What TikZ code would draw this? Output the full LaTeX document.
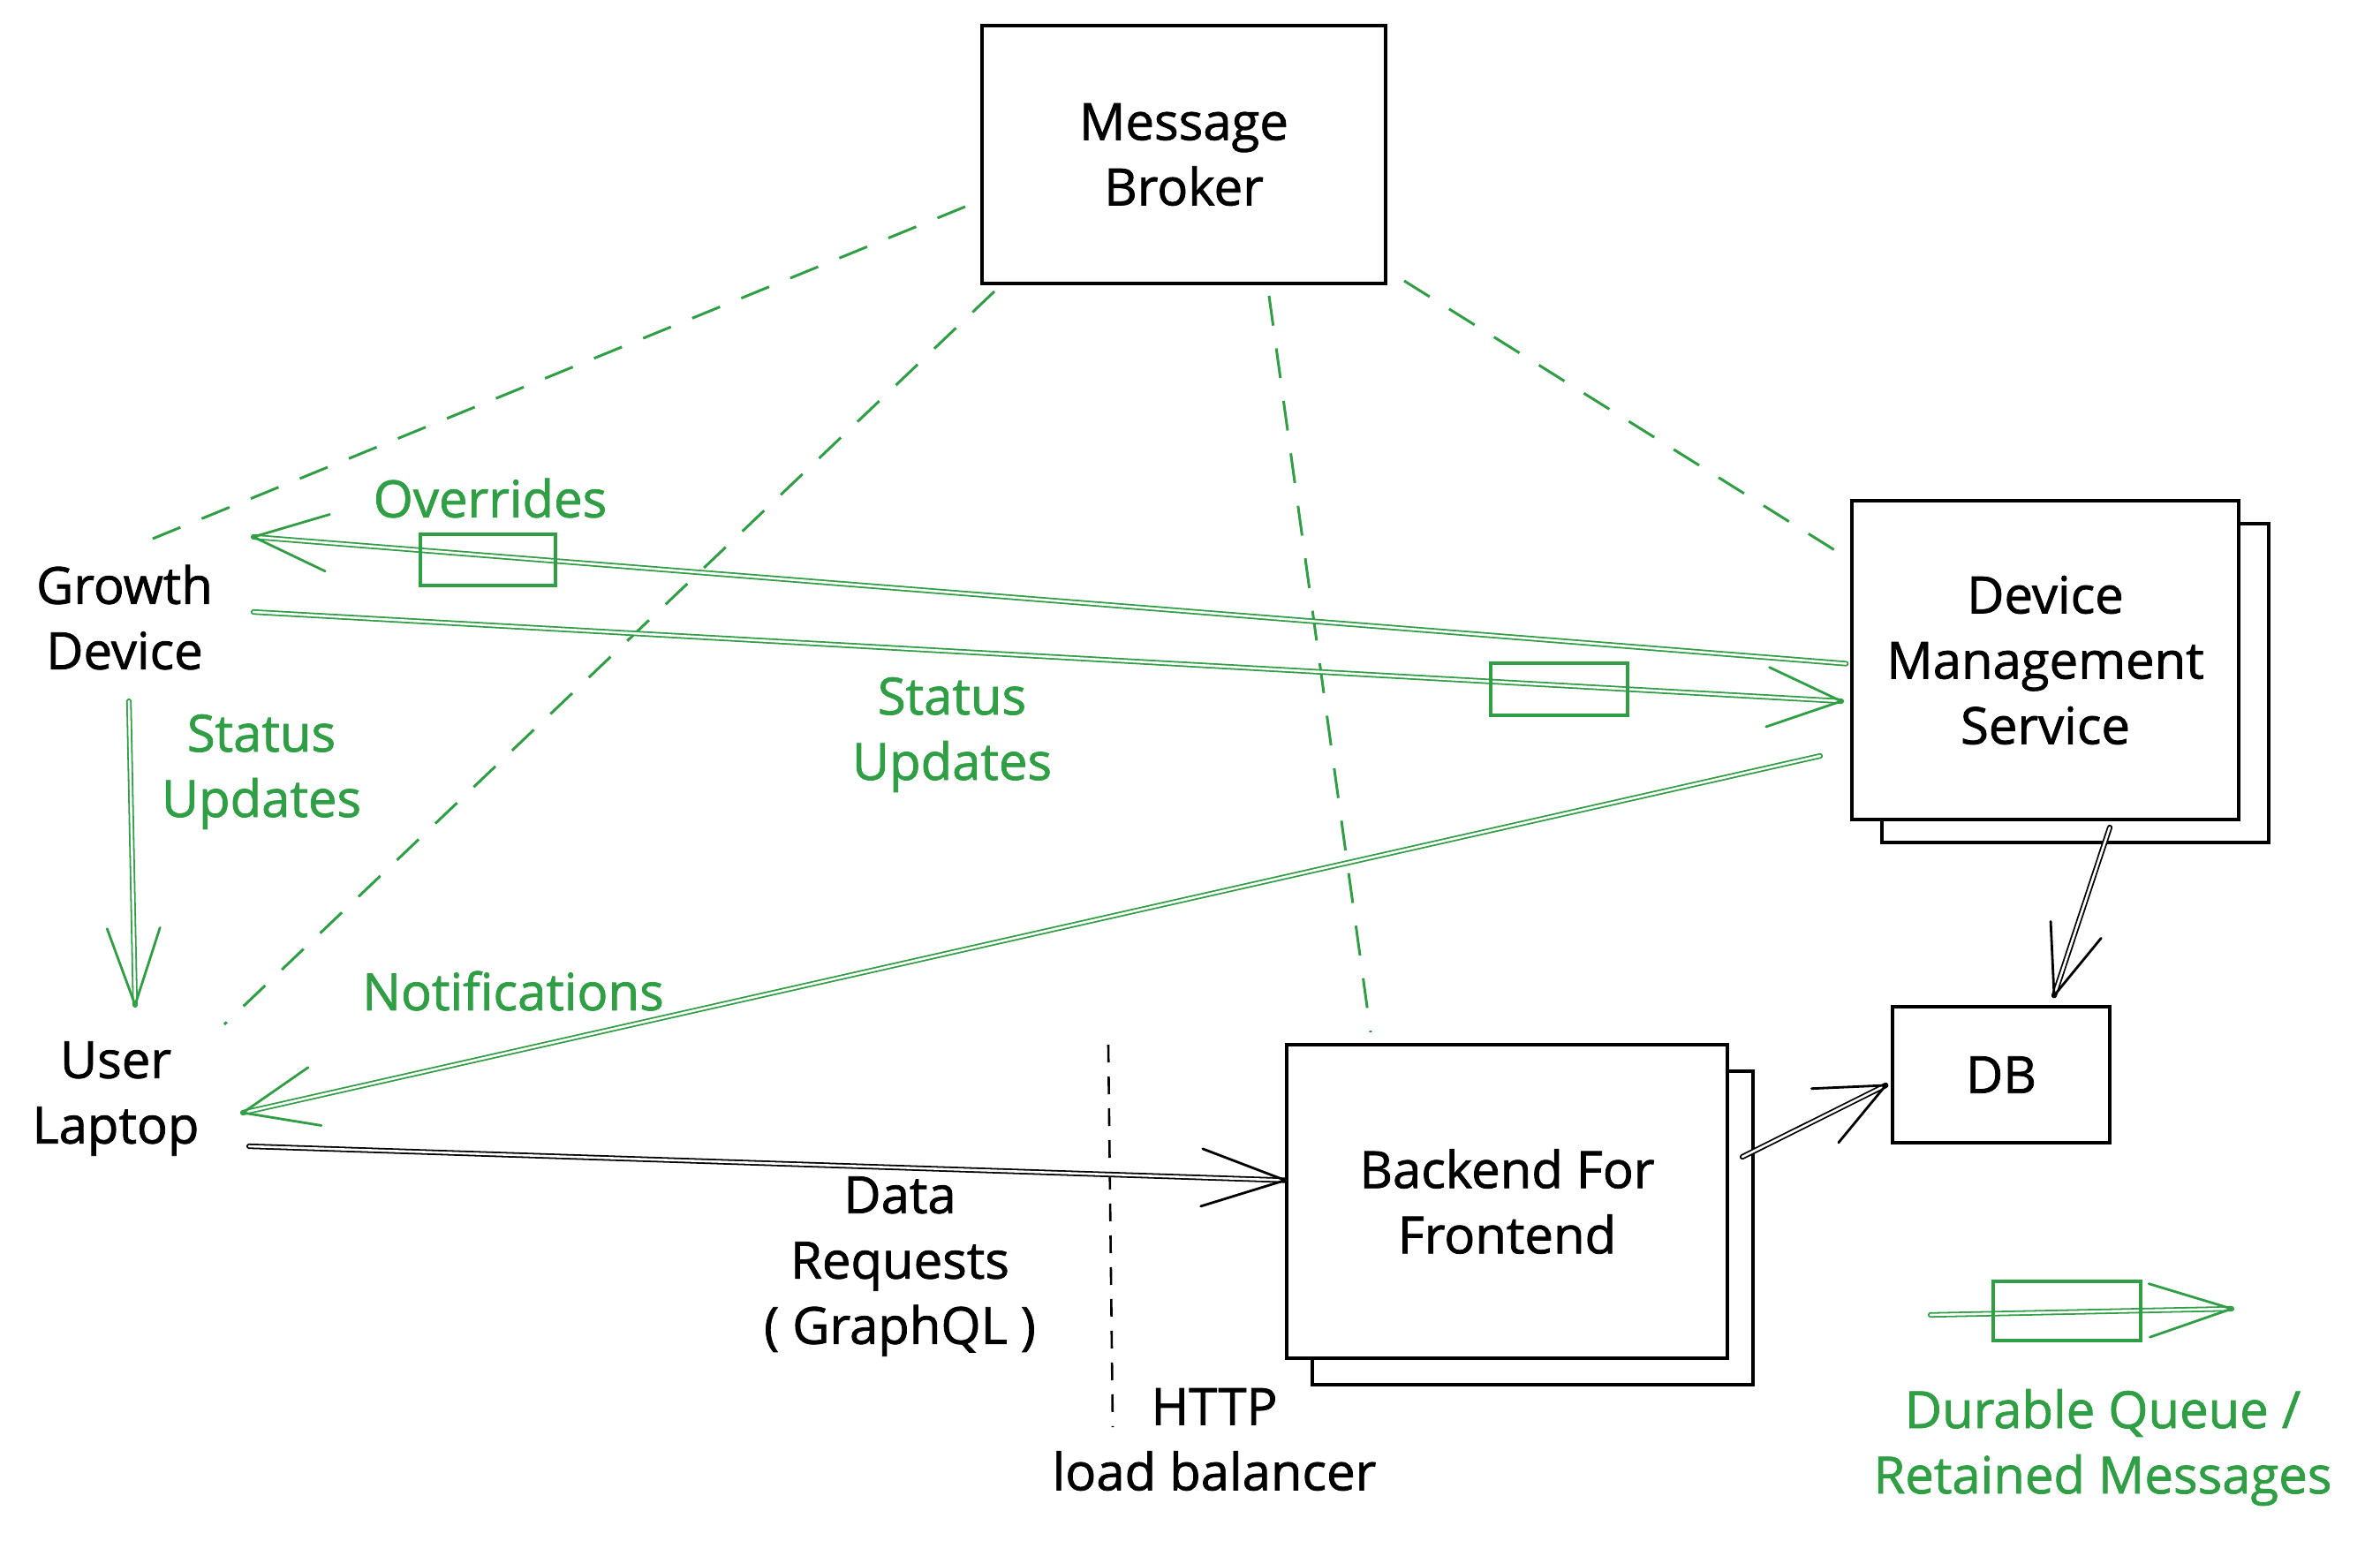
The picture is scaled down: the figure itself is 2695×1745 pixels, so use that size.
\documentclass[tikz,border=0pt]{standalone}
\usepackage{fontspec}
\setmainfont{Open Sans}[UprightFeatures={FakeBold=1.3}]
\usetikzlibrary{calc}
\definecolor{sketchgreen}{HTML}{2F9E44}
\tikzset{
  box/.style={draw=black, line width=1.7pt, fill=white, inner sep=0pt},
  lbl/.style={font=\fontsize{29}{37}\selectfont, align=center, inner sep=0pt},
  glbl/.style={lbl, text=sketchgreen},
  shaft/.style={line width=0.9pt, double=white, double distance=1.3pt, line cap=round},
  gshaft/.style={shaft, draw=sketchgreen},
  kshaft/.style={shaft, draw=black},
  headline/.style={line width=1.4pt, line cap=round, line join=round},
  gdash/.style={draw=sketchgreen, line width=1.5pt, dash pattern=on 17pt off 13pt},
  kdash/.style={draw=black, line width=1.3pt, dash pattern=on 10pt off 8pt},
  queue/.style={draw=sketchgreen, line width=1.6pt, inner sep=0pt},
}
% open arrow head: tip, tail, colour, half angle, arm length
\newcommand{\sketchhead}[5]{%
  \draw[headline, draw=#3] ($(#1)!#5!#4:(#2)$) -- (#1) -- ($(#1)!#5!-#4:(#2)$);}

\begin{document}
\begin{tikzpicture}[x=0.5pt, y=-0.5pt]
  \fill[white] (0,0) rectangle (2695,1745);
  \useasboundingbox (0,0) rectangle (2695,1745);

  % boxes
  \node[box, minimum width=228.5pt, minimum height=146pt, lbl] (mb) at (1340.5,175) {Message\\Broker};
  \node[box, minimum width=219pt, minimum height=180.5pt] (dmsback) at (2350,773.5) {};
  \node[box, minimum width=219pt, minimum height=180.5pt, lbl] (dms) at (2316,747.5) {Device\\Management\\Service};
  \node[box, minimum width=249.5pt, minimum height=177.5pt] (bffback) at (1735.5,1390.5) {};
  \node[box, minimum width=249.5pt, minimum height=177.5pt, lbl] (bff) at (1706.5,1360.5) {Backend For\\Frontend};
  \node[box, minimum width=123pt, minimum height=77pt, lbl] (db) at (2266,1217) {DB};

  % plain text actors
  \node[lbl] (growth) at (141,699) {Growth\\Device};
  \node[lbl] (laptop) at (131,1244) {User\\Laptop};

  % broker subscriptions (dashed)
  \coordinate (b1S) at (1093,234);  \coordinate (b1E) at (168,612);
  \coordinate (b2S) at (1126,330);  \coordinate (b2E) at (254,1160);
  \coordinate (b3S) at (1437,335);  \coordinate (b3E) at (1552,1169);
  \coordinate (b4S) at (1590,318);  \coordinate (b4E) at (2092,632);
  \draw[gdash] (b1S) -- (b1E);
  \draw[gdash] (b2S) -- (b2E);
  \draw[gdash] (b3S) -- (b3E);
  \draw[gdash] (b4S) -- (b4E);

  % load balancer boundary
  \coordinate (hS) at (1255,1183); \coordinate (hE) at (1260,1616);
  \draw[kdash] (hS) -- (hE);

  % overrides: DMS -> growth device
  \coordinate (ovS) at ($(dms.west)+(-5,4)$); \coordinate (ovE) at (287,608);
  \draw[gshaft] (ovS) -- (ovE);
  \sketchhead{ovE}{ovS}{sketchgreen}{21}{45pt}
  \node[queue, minimum width=76.5pt, minimum height=29pt] (q1) at (552.5,634) {};

  % status updates: growth device -> DMS
  \coordinate (stS) at (287,693); \coordinate (stE) at (2085,794);
  \draw[gshaft] (stS) -- (stE);
  \sketchhead{stE}{stS}{sketchgreen}{22}{45pt}
  \node[queue, minimum width=77.5pt, minimum height=29.5pt] (q2) at (1765.5,780.5) {};

  % status updates: growth device -> laptop
  \coordinate (gdS) at (146,794); \coordinate (gdE) at (153,1138);
  \draw[gshaft] (gdS) -- (gdE);
  \sketchhead{gdE}{gdS}{sketchgreen}{19}{46pt}

  % notifications: DMS -> laptop
  \coordinate (nfS) at (2061,856); \coordinate (nfE) at (275,1260);
  \draw[gshaft] (nfS) -- (nfE);
  \sketchhead{nfE}{nfS}{sketchgreen}{22}{45pt}

  % data requests: laptop -> BFF
  \coordinate (drS) at (282,1298); \coordinate (drE) at ($(bff.west)+(0,-24)$);
  \draw[kshaft] (drS) -- (drE);
  \sketchhead{drE}{drS}{black}{19}{50pt}

  % DMS -> DB
  \coordinate (dbS) at (2389,937); \coordinate (dbE) at ($(db.north)+(60,-11)$);
  \draw[kshaft] (dbS) -- (dbE);
  \sketchhead{dbE}{dbS}{black}{21}{42pt}

  % BFF -> DB
  \coordinate (bdS) at (1973,1310); \coordinate (bdE) at ($(db.west)+(-6,12)$);
  \draw[kshaft] (bdS) -- (bdE);
  \sketchhead{bdE}{bdS}{black}{24}{42pt}

  % legend
  \coordinate (lgS) at (2186,1489); \coordinate (lgE) at (2527,1482);
  \draw[gshaft] (lgS) -- (lgE);
  \sketchhead{lgE}{lgS}{sketchgreen}{18}{49pt}
  \node[queue, minimum width=83.5pt, minimum height=33.5pt] (q3) at (2340.5,1484.5) {};

  % labels
  \node[glbl] (lOv) at (555,564) {Overrides};
  \node[glbl] (lSt1) at (1078,832) {Status\\Updates};
  \node[glbl] (lSt2) at (296,874) {Status\\Updates};
  \node[glbl] (lNf) at (581,1122) {Notifications};
  \node[lbl] (lDr) at (1019,1434) {Data\\Requests\\( GraphQL )};
  \node[lbl] (lHttp) at (1375,1630) {HTTP\\load balancer};
  \node[glbl] (lLg) at (2381,1639) {Durable Queue /\\Retained Messages};
\end{tikzpicture}
\end{document}
